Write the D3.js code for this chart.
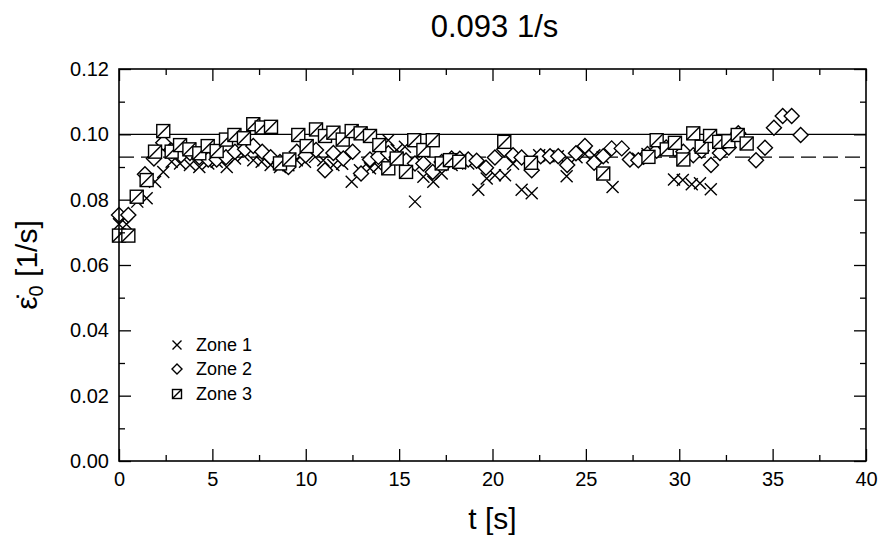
<!DOCTYPE html>
<html>
<head>
<meta charset="utf-8">
<script src="https://cdn.jsdelivr.net/npm/d3@7"></script>
<style>
  body { margin: 0; background: #fff; }
  svg { display: block; }
  text { font-family: "Liberation Sans", Arial, sans-serif; fill: #000; }
</style>
</head>
<body>
<svg id="chart" width="884" height="539"></svg>
<script>
// ---- data ----
const title = "0.093 1/s";
const xTicks = [0, 5, 10, 15, 20, 25, 30, 35, 40];
const xMinor = [2.5, 7.5, 12.5, 17.5, 22.5, 27.5, 32.5, 37.5];
const yTicks = [0.00, 0.02, 0.04, 0.06, 0.08, 0.10, 0.12];
const yMinor = [0.01, 0.03, 0.05, 0.07, 0.09, 0.11];
const refSolid = 0.100;
const refDashed = 0.093;
const zoneNames = ["Zone 1", "Zone 2", "Zone 3"];

const zone1T = [0, 0.4, 0.98, 1.48, 1.93, 2.37, 2.82, 3.27, 3.8, 4.3, 4.78, 5.23, 5.77, 6.21, 6.66, 7.19, 7.64, 8.12, 8.62, 9.07, 9.52, 9.96, 10.5, 10.94, 11.48, 11.95, 12.46, 12.9, 13.44, 13.89, 14.42, 14.87, 15.31, 15.85, 16.3, 16.83, 17.28, 17.81, 18.25, 18.7, 19.24, 19.69, 20.13, 20.67, 21.1, 21.56, 22.1, 22.5, 23.0, 23.5, 23.97, 24.5, 24.95, 25.45, 25.9, 26.43, 27.8, 28.3, 29.72, 30.19, 30.67, 31.11, 31.69];
const zone1V = [0.0725, 0.0725, 0.0794, 0.0804, 0.0855, 0.0885, 0.0916, 0.0911, 0.0906, 0.0900, 0.0911, 0.0916, 0.0900, 0.0926, 0.0936, 0.0921, 0.0916, 0.0906, 0.0900, 0.0905, 0.0921, 0.0916, 0.0931, 0.0921, 0.0906, 0.0910, 0.0855, 0.0890, 0.0896, 0.0900, 0.0982, 0.0952, 0.0962, 0.0794, 0.0870, 0.0855, 0.0880, 0.0906, 0.0911, 0.0911, 0.0830, 0.0865, 0.0875, 0.0875, 0.0910, 0.0830, 0.0820, 0.0936, 0.0933, 0.0933, 0.0872, 0.0930, 0.0940, 0.0936, 0.0930, 0.0839, 0.0925, 0.0940, 0.0862, 0.0860, 0.0847, 0.0850, 0.0832];

const zone2T = [0, 0.5, 1.39, 1.87, 2.37, 2.82, 3.32, 3.8, 4.3, 4.78, 5.23, 5.73, 6.21, 6.75, 7.19, 7.67, 8.12, 8.62, 9.07, 9.52, 10.0, 10.55, 11.03, 11.48, 12.01, 12.51, 12.96, 13.44, 13.89, 14.42, 14.87, 15.37, 15.85, 16.3, 16.8, 17.28, 17.81, 18.25, 18.7, 19.15, 19.65, 20.13, 20.63, 21.1, 21.56, 22.1, 22.58, 23.08, 23.52, 24.0, 24.47, 24.95, 25.44, 25.93, 26.38, 26.92, 27.36, 27.81, 28.3, 28.79, 29.3, 29.77, 30.22, 30.75, 31.2, 31.7, 32.18, 32.65, 33.16, 34.11, 34.59, 35.07, 35.54, 36.02, 36.5];
const zone2V = [0.0753, 0.0753, 0.0878, 0.0926, 0.0974, 0.0950, 0.0936, 0.0943, 0.0930, 0.0923, 0.0923, 0.0930, 0.0947, 0.0954, 0.0964, 0.0947, 0.0930, 0.0915, 0.0900, 0.0947, 0.0936, 0.0952, 0.0890, 0.0943, 0.0926, 0.0947, 0.0880, 0.0923, 0.0931, 0.0942, 0.0930, 0.0920, 0.0911, 0.0911, 0.0885, 0.0915, 0.0926, 0.0925, 0.0923, 0.0919, 0.0898, 0.0929, 0.0954, 0.0936, 0.0929, 0.0890, 0.0933, 0.0933, 0.0933, 0.0906, 0.0942, 0.0964, 0.0913, 0.0933, 0.0957, 0.0957, 0.0923, 0.0921, 0.0940, 0.0950, 0.0960, 0.0955, 0.0947, 0.0936, 0.0950, 0.0906, 0.0943, 0.0960, 0.1003, 0.0921, 0.0959, 0.1020, 0.1056, 0.1056, 0.0998];

const zone3T = [0, 0.5, 0.95, 1.48, 1.93, 2.37, 2.82, 3.27, 3.77, 4.3, 4.75, 5.23, 5.73, 6.18, 6.69, 7.19, 7.64, 8.14, 8.62, 9.12, 9.6, 10.05, 10.55, 11.03, 11.48, 11.98, 12.46, 12.94, 13.44, 13.94, 14.42, 14.87, 15.37, 15.81, 16.3, 16.8, 17.28, 17.72, 18.22, 20.63, 22.06, 25.93, 28.35, 28.79, 29.33, 29.77, 30.22, 30.75, 31.2, 31.65, 32.14, 32.63, 33.13, 33.61];
const zone3V = [0.0690, 0.0690, 0.0809, 0.0860, 0.0947, 0.1010, 0.0947, 0.0967, 0.0954, 0.0942, 0.0964, 0.0949, 0.0984, 0.0998, 0.0988, 0.1031, 0.1021, 0.1023, 0.0911, 0.0923, 0.0998, 0.0964, 0.1015, 0.0995, 0.1005, 0.0984, 0.1010, 0.1003, 0.0995, 0.0967, 0.0896, 0.0926, 0.0885, 0.0982, 0.0952, 0.0982, 0.0911, 0.0921, 0.0916, 0.0977, 0.0913, 0.0880, 0.0931, 0.0982, 0.0954, 0.0974, 0.0923, 0.1003, 0.0962, 0.0995, 0.0977, 0.0979, 0.0998, 0.0972];

// ---- layout ----
const svg = d3.select("#chart");
const L = 119, R = 866, T = 69, B = 461;
const x = d3.scaleLinear().domain([0, 40]).range([L, R]);
const y = d3.scaleLinear().domain([0, 0.12]).range([B, T]);

const ink = "#000";
const sw = 1.4;

// reference lines
svg.append("line").attr("x1", x(0)).attr("x2", x(40)).attr("y1", y(refSolid)).attr("y2", y(refSolid))
  .attr("stroke", ink).attr("stroke-width", 1.2);
svg.append("line").attr("x1", x(0)).attr("x2", x(40)).attr("y1", y(refDashed)).attr("y2", y(refDashed))
  .attr("stroke", ink).attr("stroke-width", 1.2).attr("stroke-dasharray", "15,7");

// markers
function drawCross(g, s) {
  g.append("path").attr("d", `M${-s},${-s}L${s},${s}M${-s},${s}L${s},${-s}`)
    .attr("stroke", ink).attr("stroke-width", sw).attr("fill", "none");
}
function drawDiamond(g, s) {
  g.append("path").attr("d", `M0,${-s}L${s},0L0,${s}L${-s},0Z`)
    .attr("stroke", ink).attr("stroke-width", sw).attr("fill", "#fff");
}
function drawSquare(g, s) {
  g.append("rect").attr("x", -s).attr("y", -s).attr("width", 2 * s).attr("height", 2 * s)
    .attr("stroke", ink).attr("stroke-width", sw).attr("fill", "#fff");
  g.append("path").attr("d", `M${-s},${s}L${s},${-s}`).attr("stroke", ink).attr("stroke-width", sw);
}

const plot = svg.append("g");
function series(ts, vs, fn, s) {
  const pts = ts.map((t, i) => [t, vs[i]]);
  plot.append("g").selectAll("g").data(pts).join("g")
    .attr("transform", d => `translate(${x(d[0])},${y(d[1])})`)
    .each(function () { fn(d3.select(this), s); });
}
series(zone1T, zone1V, drawCross, 6);
series(zone2T, zone2V, drawDiamond, 7.5);
series(zone3T, zone3V, drawSquare, 6.5);

// axes (ticks inward)
const fs = "20px";
svg.append("g").attr("transform", `translate(0,${B})`)
  .call(d3.axisBottom(x).tickValues(xTicks).tickSize(-12).tickPadding(11).tickFormat(d3.format("d")));
svg.append("g").attr("transform", `translate(0,${B})`)
  .call(d3.axisBottom(x).tickValues(xMinor).tickSize(-6).tickFormat(""));
svg.append("g").attr("transform", `translate(0,${T})`)
  .call(d3.axisTop(x).tickValues(xTicks).tickSize(-12).tickFormat(""));
svg.append("g").attr("transform", `translate(0,${T})`)
  .call(d3.axisTop(x).tickValues(xMinor).tickSize(-6).tickFormat(""));
svg.append("g").attr("transform", `translate(${L},0)`)
  .call(d3.axisLeft(y).tickValues(yTicks).tickSize(-12).tickPadding(10).tickFormat(d3.format(".2f")));
svg.append("g").attr("transform", `translate(${L},0)`)
  .call(d3.axisLeft(y).tickValues(yMinor).tickSize(-6).tickFormat(""));
svg.append("g").attr("transform", `translate(${R},0)`)
  .call(d3.axisRight(y).tickValues(yTicks).tickSize(-12).tickFormat(""));
svg.append("g").attr("transform", `translate(${R},0)`)
  .call(d3.axisRight(y).tickValues(yMinor).tickSize(-6).tickFormat(""));

svg.selectAll(".domain").remove();
svg.selectAll(".tick line").attr("stroke", ink).attr("stroke-width", 1.3);
svg.selectAll(".tick text").attr("font-size", fs).attr("font-family", "Liberation Sans, Arial, sans-serif").attr("fill", ink);

// frame
svg.append("rect").attr("x", L).attr("y", T).attr("width", R - L).attr("height", B - T)
  .attr("fill", "none").attr("stroke", ink).attr("stroke-width", 1.6);

// title
svg.append("text").attr("x", (L + R) / 2 + 2).attr("y", 37).attr("text-anchor", "middle")
  .attr("font-size", "31px").text(title);

// x label
svg.append("text").attr("x", (L + R) / 2).attr("y", 529).attr("text-anchor", "middle")
  .attr("font-size", "30px").text("t [s]");

// y label
const yl = svg.append("text").attr("transform", "translate(37,265) rotate(-90)").attr("text-anchor", "middle")
  .attr("font-size", "30px");
yl.append("tspan").text("\u03B5\u0307");
yl.append("tspan").attr("font-size", "20px").attr("dy", 6).text("0");
yl.append("tspan").attr("dy", -6).text(" [1/s]");

// legend
const legY = [345, 369, 394];
const legFns = [drawCross, drawDiamond, drawSquare];
const legS = [4.5, 5, 4.5];
zoneNames.forEach((n, i) => {
  const g = svg.append("g").attr("transform", `translate(177,${legY[i]})`);
  legFns[i](g, legS[i]);
  svg.append("text").attr("x", 196).attr("y", legY[i] + 6).attr("font-size", "18px").text(n);
});
</script>
</body>
</html>
